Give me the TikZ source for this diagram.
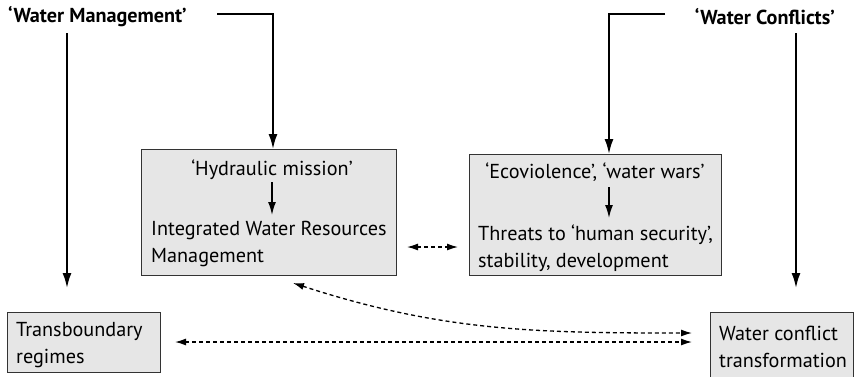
\documentclass[tikz,border=0pt]{standalone}
\usepackage{fontspec}
\setmainfont{PT Sans}
\usetikzlibrary{arrows.meta}
\definecolor{boxfill}{HTML}{E6E6E6}
\definecolor{boxline}{HTML}{333333}
\tikzset{
  lbl/.style={inner sep=0pt, font=\fontsize{20.2}{27}\selectfont},
  ttl/.style={inner sep=0pt, font=\fontsize{20.2}{24}\selectfont\bfseries},
  panel/.style={draw=boxline, fill=boxfill, line width=1.2pt, inner sep=0pt},
  flow/.style={line width=1.9pt, -{Latex[length=15pt,width=9pt]}},
  inflow/.style={line width=1.6pt, -{Latex[length=13pt,width=8pt]}},
  link/.style={line width=1.3pt, dash pattern=on 4pt off 3pt,
    {Latex[length=11pt,width=7pt]}-{Latex[length=11pt,width=7pt]}},
}
\begin{document}
\begin{tikzpicture}[x=1pt,y=-1pt]
\useasboundingbox (0,0) rectangle (854,376);
\clip (0,0) rectangle (854,376);

% titles
\node[ttl, anchor=west] (wm) at (8,17) {‘Water Management’};
\node[ttl, anchor=east] (wc) at (835,17) {‘Water Conflicts’};

% middle panels
\node[panel, minimum width=255, minimum height=126, anchor=north west] (iwrm) at (141,149) {};
\node[panel, minimum width=252, minimum height=121, anchor=north west] (eco) at (469,154) {};

% bottom panels
\node[panel, minimum width=153, minimum height=60, anchor=north west] (tr) at (7,312) {};
\node[panel, minimum width=143, minimum height=80, anchor=north west] (wct) at (710,312) {};

% texts inside the IWRM panel
\node[lbl] (hm) at (272,170) {‘Hydraulic mission’};
\node[lbl, anchor=north west, align=left] (iw) at (151,221) {Integrated Water Resources\\Management};
\draw[inflow] (272,182) -- (272,215);

% texts inside the conflict panel
\node[lbl] (ev) at (595,172) {‘Ecoviolence’, ‘water wars’};
\node[lbl, anchor=north west, align=left] (th) at (478,225) {Threats to ‘human security’,\\stability, development};
\draw[inflow] (609,187) -- (609,218);

% texts of the bottom panels
\node[lbl, anchor=north west, align=left] (trt) at (16,322) {Transboundary\\regimes};
\node[lbl, anchor=north west, align=left] (wctt) at (719,326) {Water conflict\\transformation};

% solid arrows from the titles
\coordinate (wmL) at (67,33);
\coordinate (wmR) at (217,14);
\coordinate (wmC) at (273,14);
\coordinate (wcL) at (665,14);
\coordinate (wcC) at (609,14);
\coordinate (wcR) at (796,33);
\draw[flow] (wmL) -- (67,288);
\draw[flow] (wmR) -- (wmC) -- (wmC |- iwrm.north);
\draw[flow] (wcL) -- (wcC) -- (wcC |- eco.north);
\draw[flow] (wcR) -- (796,288);

% dashed relations
\draw[link] (407,247) -- (458,247);
\draw[link] (293,283) to[out=-18,in=180] (692,333);
\draw[link] (175,342) -- (692,342);
\end{tikzpicture}
\end{document}
